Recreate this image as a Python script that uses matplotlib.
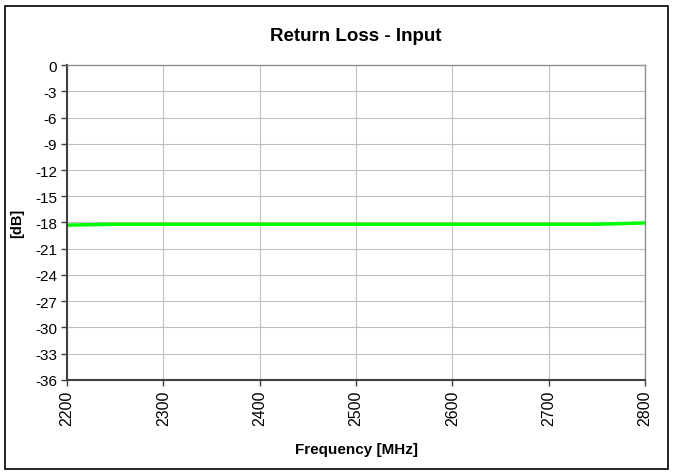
import matplotlib
matplotlib.use("Agg")
import matplotlib.pyplot as plt
from matplotlib.patches import Rectangle

plt.rcParams['font.family'] = ['Liberation Sans', 'DejaVu Sans']

freq = [2200, 2250, 2300, 2350, 2400, 2450, 2500, 2550, 2600, 2650, 2700, 2750, 2800]
rl = [-18.3, -18.2, -18.2, -18.2, -18.2, -18.2, -18.2, -18.2, -18.2, -18.2, -18.2, -18.2, -18.05]
xticks = [2200, 2300, 2400, 2500, 2600, 2700, 2800]
yticks = list(range(-36, 1, 3))

fig = plt.figure(figsize=(6.75, 4.77), dpi=100)
ax = fig.add_axes([0.0993, 0.2013, 0.8563, 0.6603])
ax.plot(freq, rl, color='#00ff00', lw=2.5, solid_capstyle='butt')
ax.set_xlim(2200, 2800)
ax.set_ylim(-36, 0)
ax.set_xticks(xticks)
ax.set_yticks(yticks)
ax.set_xticklabels([str(x) for x in xticks], rotation=90, fontsize=11.5)
ax.set_yticklabels([str(y) for y in yticks], fontsize=11)
ax.grid(True, color='#c0c0c0', lw=0.8)
ax.set_axisbelow(True)
for s in ['top', 'right']:
    ax.spines[s].set_color('#909090')
    ax.spines[s].set_linewidth(1.0)
for s in ['left', 'bottom']:
    ax.spines[s].set_color('#404040')
    ax.spines[s].set_linewidth(1.5)
ax.tick_params(direction='out', length=4, width=1, color='#404040', pad=3)
ax.set_title('Return Loss - Input', fontsize=13.5, fontweight='bold', pad=18)
ax.set_xlabel('Frequency [MHz]', fontsize=11, fontweight='bold', labelpad=12)
ax.set_ylabel('[dB]', fontsize=10.5, fontweight='bold', labelpad=8)

fig.patches.append(Rectangle((5/675, 7/477), 663/675, 463/477, transform=fig.transFigure,
                             fill=False, edgecolor='black', lw=1.2))
fig.savefig('out.png', dpi=100)
